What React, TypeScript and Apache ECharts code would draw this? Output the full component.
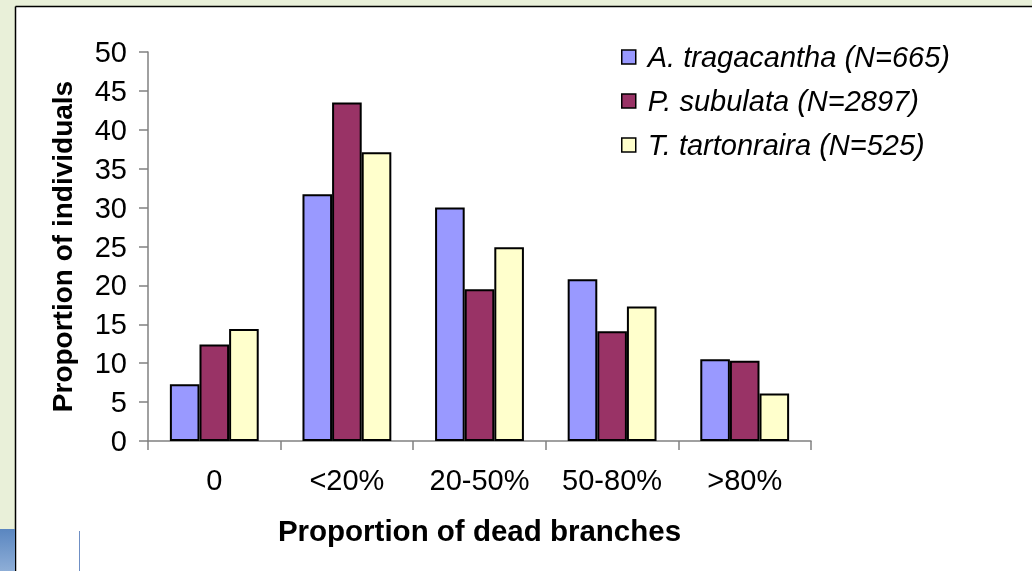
import React, { useEffect, useRef } from "react";
import * as echarts from "echarts";

const categories = ["0", "<20%", "20-50%", "50-80%", ">80%"];
const seriesNames = [
  "A. tragacantha (N=665)",
  "P. subulata (N=2897)",
  "T. tartonraira (N=525)",
];
const aTragacantha = [7.3, 31.7, 30.0, 20.8, 10.5];
const pSubulata = [12.4, 43.5, 19.5, 14.1, 10.3];
const tTartonraira = [14.4, 37.1, 24.9, 17.3, 6.1];
const yTicks = { min: 0, max: 50, interval: 5 };

const colors = ["#9999FF", "#993366", "#FFFFCC"];
const FONT = "'Liberation Sans', Arial, sans-serif";

export default function App() {
  const ref = useRef<HTMLDivElement>(null);
  useEffect(() => {
    if (!ref.current) return;
    const chart = echarts.init(ref.current, undefined, { renderer: "svg" });
    const values = [aTragacantha, pSubulata, tTartonraira];
    chart.setOption({
      animation: false,
      textStyle: { fontFamily: FONT },
      graphic: [
        { type: "rect", z: -10, silent: true, shape: { x: 0, y: 0, width: 1032, height: 571 }, style: { fill: "#E9F0D9" } },
        { type: "rect", z: -9, silent: true, shape: { x: 16, y: 7, width: 1016, height: 564 }, style: { fill: "#FFFFFF" } },
        { type: "line", z: -8, silent: true, shape: { x1: 15.5, y1: 6.5, x2: 1032, y2: 6.5 }, style: { stroke: "#000", lineWidth: 1.5 } },
        { type: "line", z: -8, silent: true, shape: { x1: 15.5, y1: 6.5, x2: 15.5, y2: 571 }, style: { stroke: "#000", lineWidth: 1.5 } },
        {
          type: "rect", z: -8, silent: true, shape: { x: 0, y: 529, width: 15, height: 42 },
          style: {
            fill: new echarts.graphic.LinearGradient(0, 0, 0, 1, [
              { offset: 0, color: "#5A86C0" },
              { offset: 1, color: "#8EAED7" },
            ]),
          },
        },
        { type: "line", z: -8, silent: true, shape: { x1: 79.5, y1: 531, x2: 79.5, y2: 571 }, style: { stroke: "#6F8FC4", lineWidth: 1 } },
      ],
      grid: { left: 148, right: 221, top: 52, bottom: 130, containLabel: false },
      legend: {
        orient: "vertical",
        left: 621,
        top: 42,
        padding: 0,
        itemWidth: 14,
        itemHeight: 14,
        itemGap: 14,
        icon: "rect",
        data: seriesNames,
        itemStyle: { borderColor: "#000", borderWidth: 1.5 },
        textStyle: { fontSize: 29, lineHeight: 30, fontStyle: "italic", color: "#000", fontFamily: FONT, padding: [0, 0, 0, 7] },
      },
      xAxis: {
        type: "category",
        data: categories,
        name: "Proportion of dead branches",
        nameLocation: "middle",
        nameGap: 74,
        nameTextStyle: { fontSize: 29.5, fontWeight: "bold", color: "#000", fontFamily: FONT },
        axisLine: { lineStyle: { color: "#808080", width: 1.5 } },
        axisTick: { show: true, length: 9, lineStyle: { color: "#808080", width: 1.5 } },
        axisLabel: { fontSize: 29, color: "#000", margin: 24, fontFamily: FONT },
      },
      yAxis: {
        type: "value",
        min: yTicks.min,
        max: yTicks.max,
        interval: yTicks.interval,
        name: "Proportion of individuals",
        nameLocation: "middle",
        nameGap: 72,
        nameTextStyle: { fontSize: 28, fontWeight: "bold", color: "#000", fontFamily: FONT },
        splitLine: { show: false },
        axisLine: { show: true, lineStyle: { color: "#808080", width: 1.5 } },
        axisTick: { show: true, length: 9, lineStyle: { color: "#808080", width: 1.5 } },
        axisLabel: { fontSize: 29, color: "#000", margin: 21, fontFamily: FONT },
      },
      series: seriesNames.map((name, i) => ({
        name,
        type: "bar",
        data: values[i],
        barGap: "0%",
        barCategoryGap: "33%",
        itemStyle: { color: colors[i], borderColor: "#000", borderWidth: 2 },
      })),
    });
    return () => chart.dispose();
  }, []);
  return (
    <div
      ref={ref}
      style={{ position: "fixed", left: 0, top: 0, width: 1032, height: 571 }}
    />
  );
}
